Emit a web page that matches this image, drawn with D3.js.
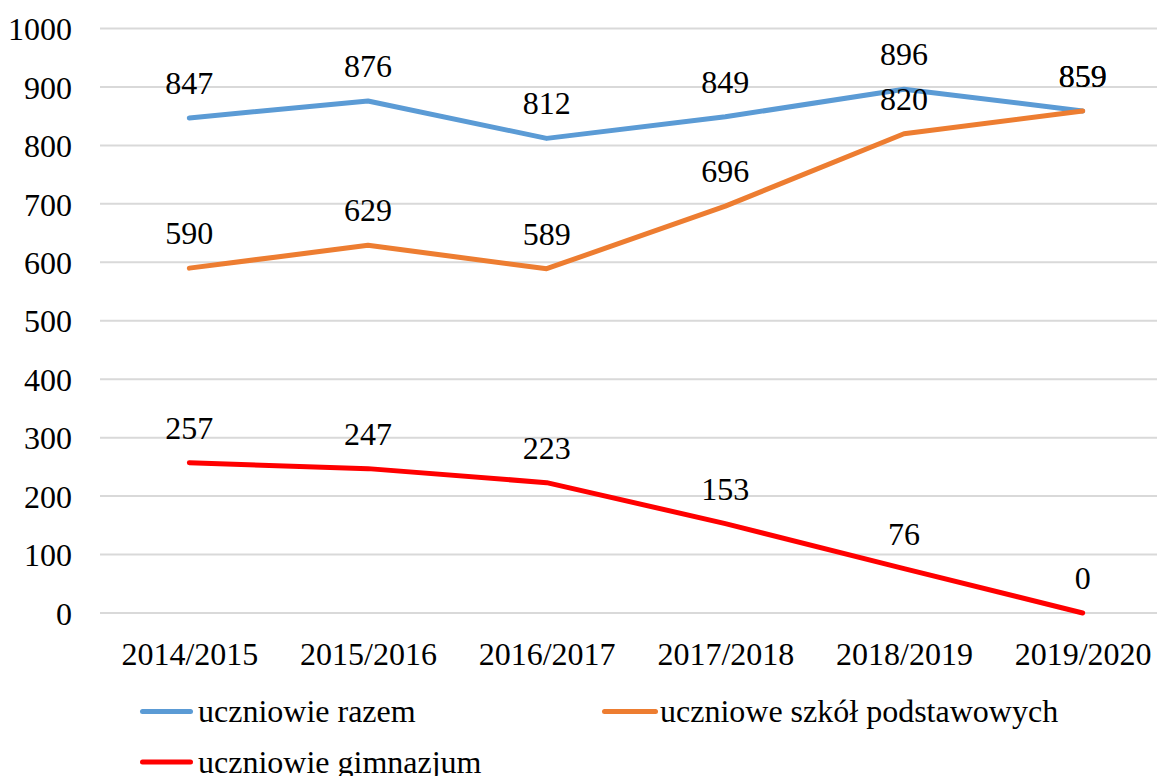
<!DOCTYPE html>
<html>
<head>
<meta charset="utf-8">
<script src="https://cdn.jsdelivr.net/npm/d3@7"></script>
</head>
<body style="margin:0">
<script>
var width = 1157,
    height = 776;

var years = ["2014/2015", "2015/2016", "2016/2017", "2017/2018", "2018/2019", "2019/2020"];
var razem = [847, 876, 812, 849, 896, 859];
var podstawowe = [590, 629, 589, 696, 820, 859];
var gimnazjum = [257, 247, 223, 153, 76, 0];
var yTicks = [0, 100, 200, 300, 400, 500, 600, 700, 800, 900, 1000];

var series = [
  {name: "uczniowie razem", values: razem, color: "#5B9BD5"},
  {name: "uczniowe szkół podstawowych", values: podstawowe, color: "#ED7D31"},
  {name: "uczniowie gimnazjum", values: gimnazjum, color: "#FF0000"}
];

var svg = d3.select("body").append("svg")
    .attr("width", width)
    .attr("height", height)
    .attr("font-family", "Liberation Serif")
    .attr("font-size", 32);

var x = d3.scalePoint()
    .domain(years)
    .range([100, 1172])
    .padding(0.5);

var y = d3.scaleLinear()
    .domain([0, 1000])
    .range([613, 28.5]);

// gridlines
svg.append("g")
  .selectAll("line")
  .data(yTicks)
  .enter().append("line")
    .attr("x1", 100)
    .attr("x2", width)
    .attr("y1", function(d) { return y(d); })
    .attr("y2", function(d) { return y(d); })
    .attr("stroke", "#D9D9D9")
    .attr("stroke-width", 2);

// y axis labels
var yAxis = svg.append("g")
    .attr("transform", "translate(72,0)")
    .call(d3.axisLeft(y).tickValues(yTicks).tickFormat(d3.format("d")).tickSize(0).tickPadding(0))
    .attr("font-family", "Liberation Serif")
    .attr("font-size", 32);
yAxis.select(".domain").remove();
yAxis.selectAll("text")
    .attr("fill", "#000")
    .attr("dy", "0.35em");

// x axis labels
var xAxis = svg.append("g")
    .attr("transform", "translate(0,613)")
    .call(d3.axisBottom(x).tickSize(0).tickPadding(0))
    .attr("font-family", "Liberation Serif")
    .attr("font-size", 32);
xAxis.select(".domain").remove();
xAxis.selectAll("text")
    .attr("fill", "#000")
    .attr("y", 52)
    .attr("dy", 0);

var line = d3.line()
    .x(function(d, i) { return x(years[i]); })
    .y(function(d) { return y(d); });

svg.append("g")
  .selectAll("path")
  .data(series)
  .enter().append("path")
    .attr("d", function(d) { return line(d.values); })
    .attr("fill", "none")
    .attr("stroke", function(d) { return d.color; })
    .attr("stroke-width", 5)
    .attr("stroke-linecap", "round")
    .attr("stroke-linejoin", "round");

// data labels
series.forEach(function(s) {
  svg.append("g")
    .selectAll("text")
    .data(s.values)
    .enter().append("text")
      .attr("x", function(d, i) { return x(years[i]); })
      .attr("y", function(d) { return y(d) - 24; })
      .attr("text-anchor", "middle")
      .text(function(d) { return d; });
});

// legend
var legendPos = [[140, 711.5], [602, 711.5], [140, 762]];
var legend = svg.append("g")
  .selectAll("g")
  .data(series)
  .enter().append("g")
    .attr("transform", function(d, i) { return "translate(" + legendPos[i][0] + "," + legendPos[i][1] + ")"; });

legend.append("line")
    .attr("x1", 2.5)
    .attr("x2", function(d, i) { return i == 1 ? 53.5 : 50.5; })
    .attr("stroke", function(d) { return d.color; })
    .attr("stroke-width", 5)
    .attr("stroke-linecap", "round");

legend.append("text")
    .attr("x", function(d, i) { return i == 1 ? 58 : 58; })
    .attr("dy", "0.33em")
    .text(function(d) { return d.name; });
</script>
</body>
</html>
